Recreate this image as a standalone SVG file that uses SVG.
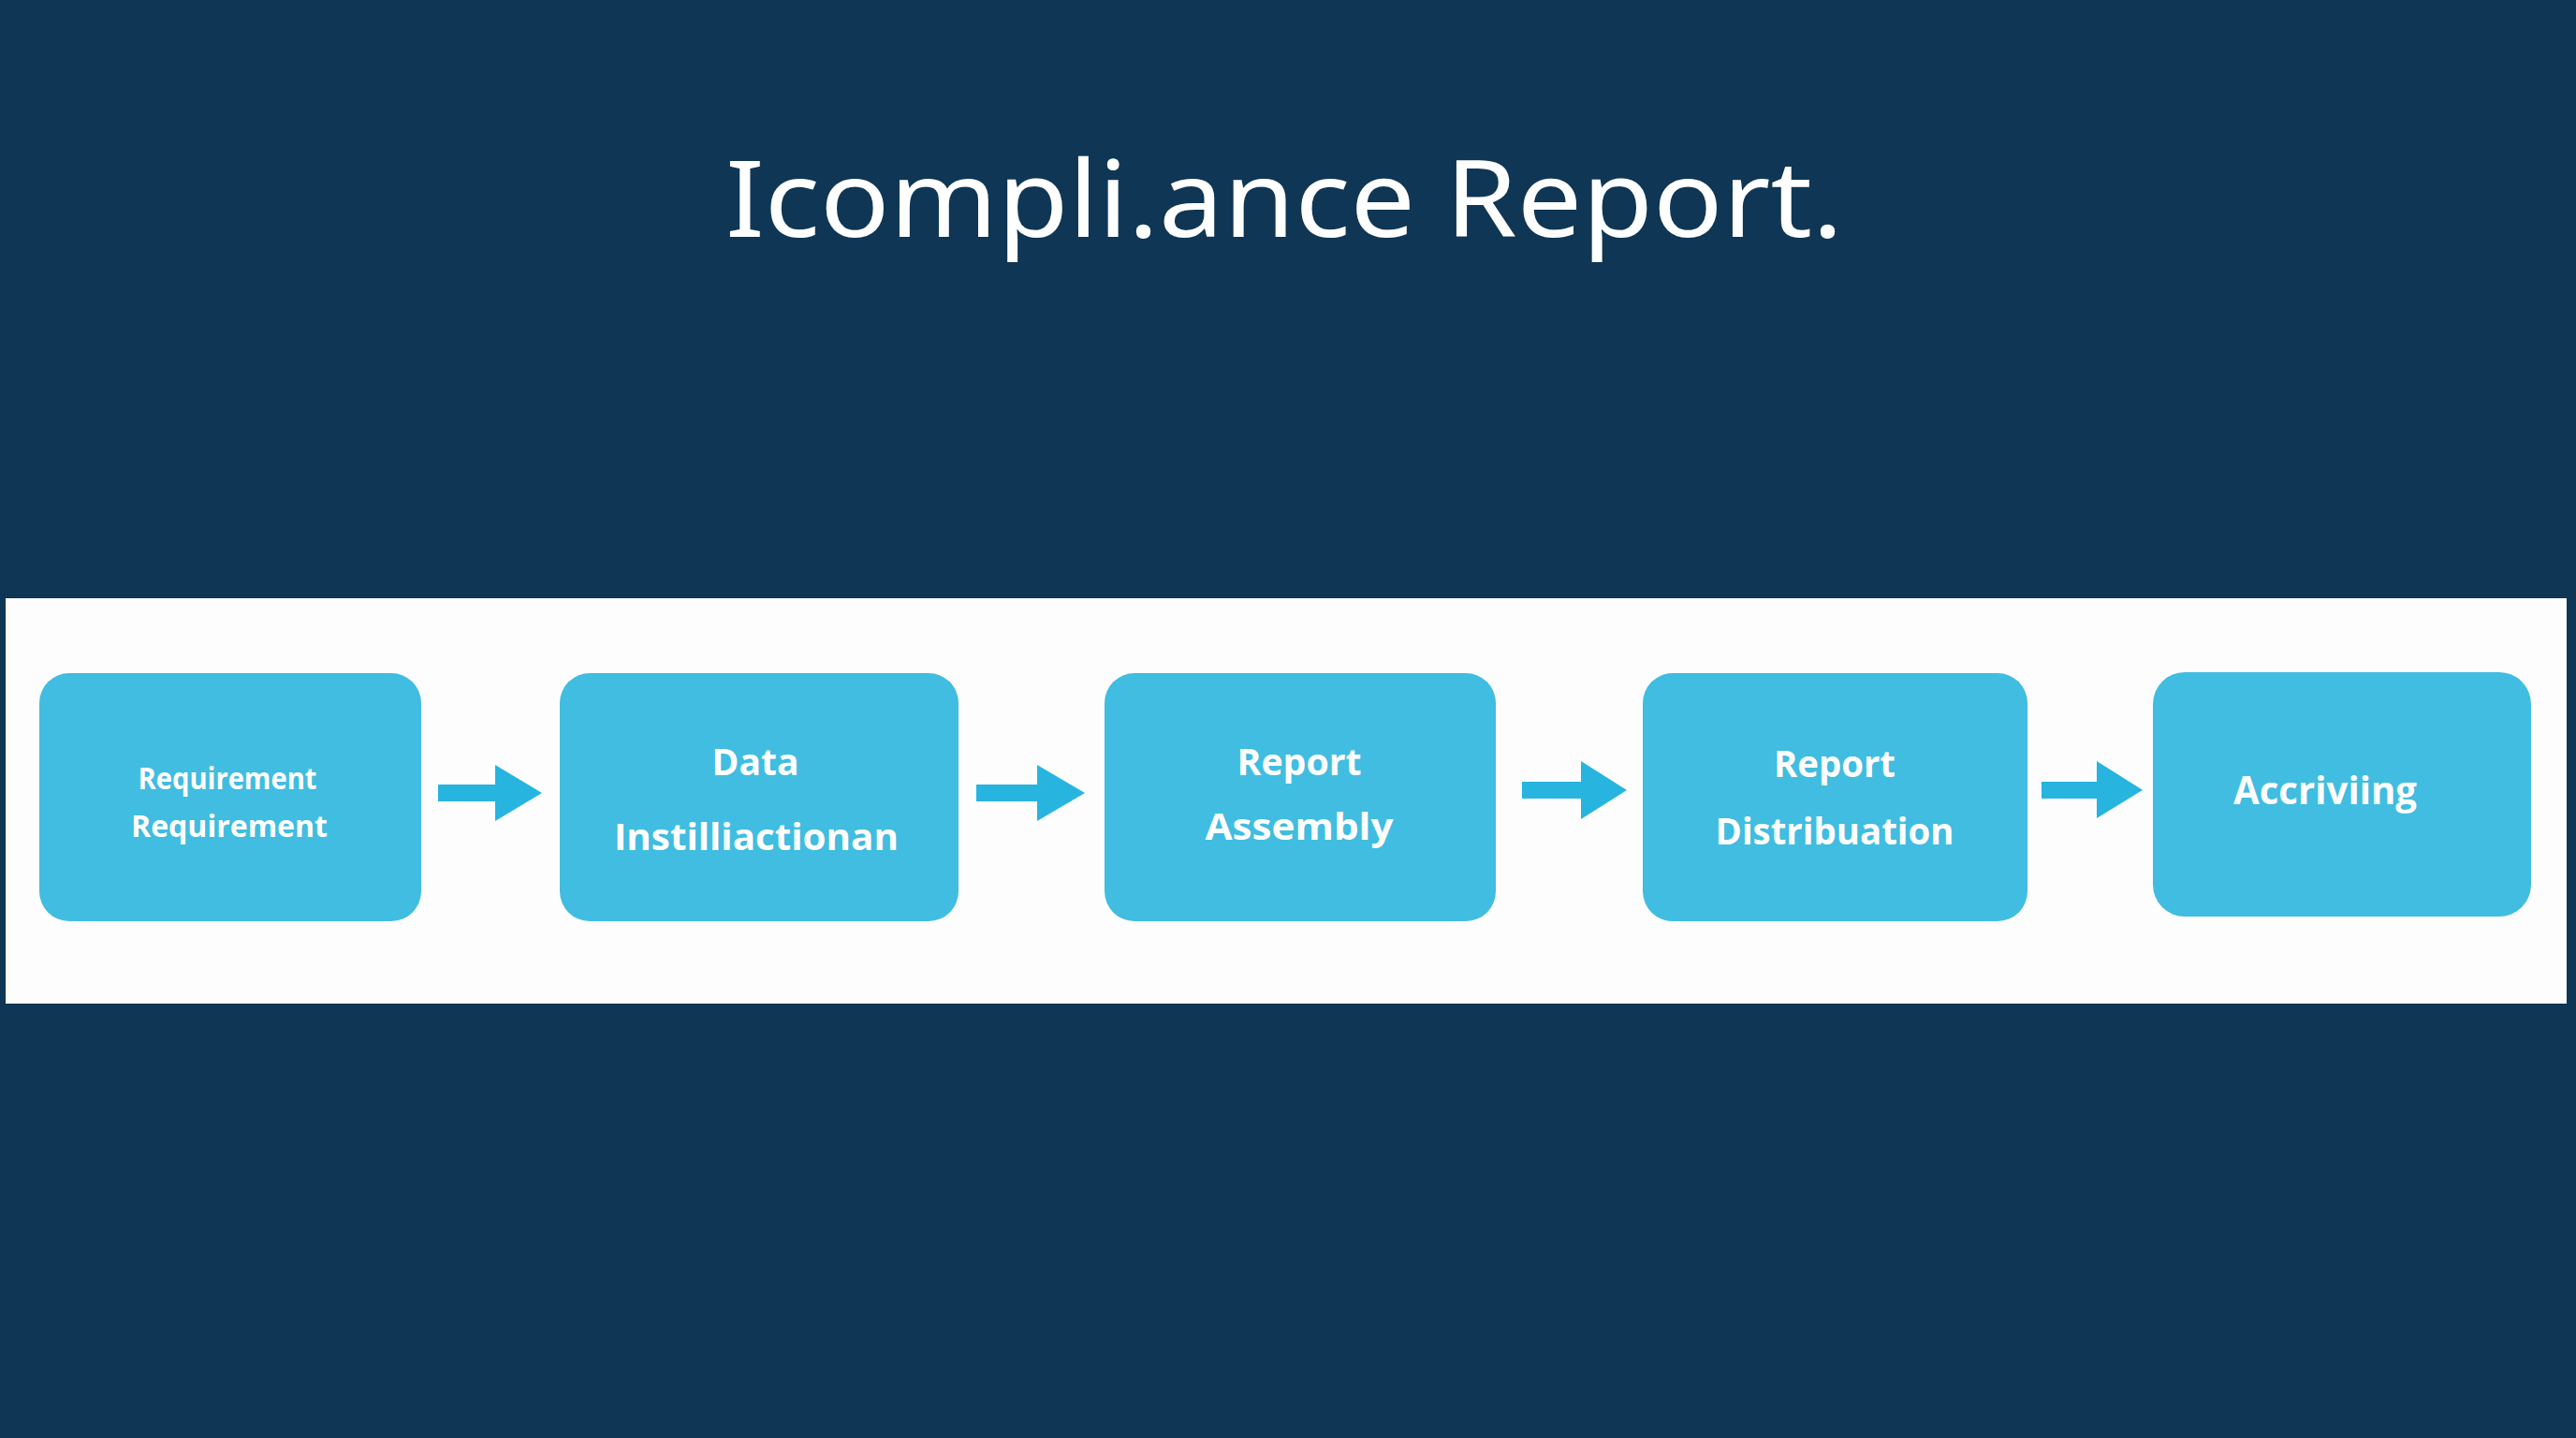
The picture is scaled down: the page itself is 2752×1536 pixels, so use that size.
<svg xmlns="http://www.w3.org/2000/svg" width="2752" height="1536" viewBox="0 0 2752 1536">
<defs>
<style>
.bg{fill:#0f3654}
.band{fill:#fdfdfd}
.box{fill:#40bde0}
.arrow{fill:#27b4df}
.lbl{font-family:"Open Sans","Noto Sans","Liberation Sans",sans-serif;font-weight:700;fill:#ffffff;text-anchor:middle}
.title{font-family:"Noto Sans","DejaVu Sans",sans-serif;font-weight:400;fill:#ffffff}
</style>
</defs>
<rect class="bg" x="0" y="0" width="2752" height="1536"/>
<text class="title" x="775" y="253" font-size="114" textLength="1194" lengthAdjust="spacingAndGlyphs">Icompli.ance Report.</text>
<rect class="band" x="6" y="639" width="2736" height="433"/>
<g id="node1">
<rect class="box" x="42" y="719" width="408" height="265" rx="32"/>
<text class="lbl" x="243" y="843" font-size="33" textLength="191" lengthAdjust="spacingAndGlyphs">Requirement</text>
<text class="lbl" x="245" y="894" font-size="33" textLength="210" lengthAdjust="spacingAndGlyphs">Requirement</text>
</g>
<g id="node2">
<rect class="box" x="598" y="719" width="426" height="265" rx="32"/>
<text class="lbl" x="807" y="828" font-size="40" textLength="93" lengthAdjust="spacingAndGlyphs">Data</text>
<text class="lbl" x="808" y="908" font-size="40" textLength="304" lengthAdjust="spacingAndGlyphs">Instilliactionan</text>
</g>
<g id="node3">
<rect class="box" x="1180" y="719" width="418" height="265" rx="32"/>
<text class="lbl" x="1388" y="828" font-size="40" textLength="133" lengthAdjust="spacingAndGlyphs">Report</text>
<text class="lbl" x="1388" y="897" font-size="40" textLength="201" lengthAdjust="spacingAndGlyphs">Assembly</text>
</g>
<g id="node4">
<rect class="box" x="1755" y="719" width="411" height="265" rx="32"/>
<text class="lbl" x="1960" y="830" font-size="40" textLength="130" lengthAdjust="spacingAndGlyphs">Report</text>
<text class="lbl" x="1960" y="902" font-size="40" textLength="255" lengthAdjust="spacingAndGlyphs">Distribuation</text>
</g>
<g id="node5">
<rect class="box" x="2300" y="718" width="404" height="261" rx="34"/>
<text class="lbl" x="2484" y="859" font-size="41" textLength="196" lengthAdjust="spacingAndGlyphs">Accriviing</text>
</g>
<g id="connectors">
<polygon class="arrow" points="468,838 529,838 529,817 579,847 529,877 529,856 468,856"/>
<polygon class="arrow" points="1043,838 1108,838 1108,817 1159,847 1108,877 1108,856 1043,856"/>
<polygon class="arrow" points="1626,835 1689,835 1689,813 1738,844 1689,875 1689,853 1626,853"/>
<polygon class="arrow" points="2181,835 2240,835 2240,813 2289,844 2240,874 2240,853 2181,853"/>
</g>
</svg>
